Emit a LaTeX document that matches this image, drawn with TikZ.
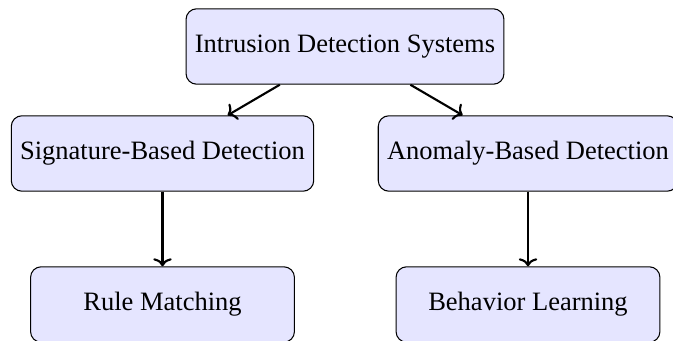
\documentclass[tikz,border=0pt]{standalone}
\usepackage{fontspec}
\setmainfont{Liberation Serif}
\usetikzlibrary{arrows.meta}
\begin{document}
\begin{tikzpicture}[x=0.3774pt,y=-0.3774pt,
  box/.style={draw, rounded corners=4pt, fill=blue!10, minimum height=1cm,
              minimum width=3.5cm, align=center, font=\fontsize{10}{12}\selectfont},
  link/.style={-{To[length=3pt,width=7pt]}, thick}]
\useasboundingbox (0,0) rectangle (673,341);
\node[box] (ids) at (345,46.5) {Intrusion Detection Systems};
\node[box] (sig) at (162.5,153.5) {Signature-Based Detection};
\node[box] (ano) at (528,153.5) {Anomaly-Based Detection};
\node[box] (rule) at (162.5,304.5) {Rule Matching};
\node[box] (beh) at (528,304.5) {Behavior Learning};
\draw[link] (ids) -- (sig);
\draw[link] (ids) -- (ano);
\draw[link] (sig) -- (rule);
\draw[link] (ano) -- (beh);
\end{tikzpicture}
\end{document}
